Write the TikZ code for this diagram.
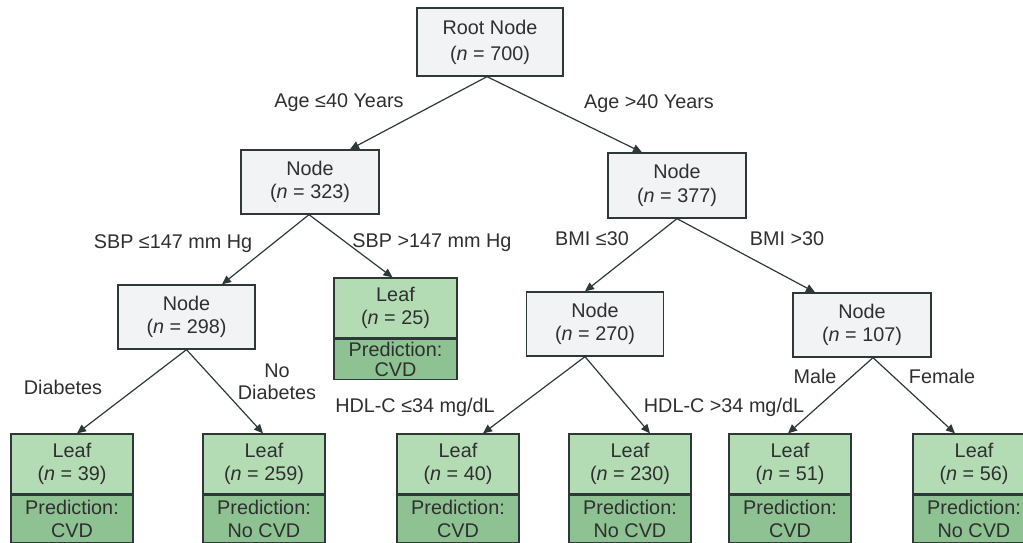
\documentclass[tikz,border=0pt]{standalone}
\usepackage{fontspec}
\setmainfont{Liberation Sans}
\usetikzlibrary{arrows.meta,calc}
\definecolor{txt}{HTML}{2F2F2F}
\definecolor{edgec}{HTML}{2E3838}
\definecolor{nfill}{HTML}{F1F3F4}
\definecolor{lfill}{HTML}{B4DCB4}
\definecolor{pfill}{HTML}{8FC293}
\begin{document}
\begin{tikzpicture}[x=1pt,y=-1pt,
  font=\fontsize{19.8}{23.5}\selectfont, text=txt,
  nodebox/.style={draw=edgec, line width=1.3pt, fill=nfill, align=center, inner sep=0pt, minimum width=138pt, minimum height=64pt},
  leaftop/.style={draw=edgec, line width=1.3pt, fill=lfill, align=center, inner sep=0pt, minimum width=122pt, minimum height=60pt},
  leafbot/.style={draw=edgec, line width=1.3pt, fill=pfill, align=center, inner sep=0pt, minimum width=122pt, minimum height=47pt, anchor=north},
  lbl/.style={inner sep=0pt, align=center},
  conn/.style={draw=edgec, line width=1.2pt, -{Triangle[length=9pt,width=8pt]}}]
\useasboundingbox (0,0) rectangle (1023,542);
\clip (0,0) rectangle (1023,542);
% internal nodes
\node[nodebox, minimum width=146pt, minimum height=68pt, font=\fontsize{19.8}{26}\selectfont] (root) at (490,42) {Root Node\\(\textit{n} = 700)};
\node[nodebox] (n323) at (310,182) {Node\\(\textit{n} = 323)};
\node[nodebox, minimum height=65pt] (n377) at (677,185.5) {Node\\(\textit{n} = 377)};
\node[nodebox, minimum width=137pt] (n298) at (186.5,317) {Node\\(\textit{n} = 298)};
\node[nodebox, minimum width=137pt] (n270) at (595,324) {Node\\(\textit{n} = 270)};
\node[nodebox] (n107) at (862,325) {Node\\(\textit{n} = 107)};
% leaf 25
\node[leaftop, minimum width=123pt, minimum height=60pt] (l25t) at (395.5,308) {Leaf\\(\textit{n} = 25)};
\node[leafbot, minimum width=123pt, minimum height=40pt, font=\fontsize{19.8}{19.5}\selectfont] (l25b) at (l25t.south) {Prediction:\\CVD};
% bottom leaves
\node[leaftop] (l39t) at (72,464) {Leaf\\(\textit{n} = 39)};
\node[leafbot] (l39b) at (l39t.south) {Prediction:\\CVD};
\node[leaftop] (l259t) at (264,464) {Leaf\\(\textit{n} = 259)};
\node[leafbot] (l259b) at (l259t.south) {Prediction:\\No CVD};
\node[leaftop] (l40t) at (458,464) {Leaf\\(\textit{n} = 40)};
\node[leafbot] (l40b) at (l40t.south) {Prediction:\\CVD};
\node[leaftop] (l230t) at (630,464) {Leaf\\(\textit{n} = 230)};
\node[leafbot] (l230b) at (l230t.south) {Prediction:\\No CVD};
\node[leaftop] (l51t) at (790,464) {Leaf\\(\textit{n} = 51)};
\node[leafbot] (l51b) at (l51t.south) {Prediction:\\CVD};
\node[leaftop] (l56t) at (974,464) {Leaf\\(\textit{n} = 56)};
\node[leafbot] (l56b) at (l56t.south) {Prediction:\\No CVD};
% connectors
\draw[conn] ([xshift=-3pt]root.south) -- ([xshift=40pt]n323.north);
\draw[conn] ([xshift=-3pt]root.south) -- ([xshift=-35pt]n377.north);
\draw[conn] ([xshift=-1pt]n323.south) -- ([xshift=35.5pt]n298.north);
\draw[conn] ([xshift=-1pt]n323.south) -- ([xshift=-3pt]l25t.north);
\draw[conn] (n377.south) -- ([xshift=-10pt]n270.north);
\draw[conn] (n377.south) -- ([xshift=-47pt]n107.north);
\draw[conn] (n298.south) -- ([xshift=5pt]l39t.north);
\draw[conn] (n298.south) -- ([xshift=-1pt]l259t.north);
\draw[conn] ([xshift=-10pt]n270.south) -- ([xshift=25pt]l40t.north);
\draw[conn] ([xshift=-10pt]n270.south) -- ([xshift=20pt]l230t.north);
\draw[conn] ([xshift=11pt]n107.south) -- ([xshift=-2pt]l51t.north);
\draw[conn] ([xshift=11pt]n107.south) -- ([xshift=-19pt]l56t.north);
% labels
\node[lbl] (a1) at (339,103) {Age ≤40 Years};
\node[lbl] (a2) at (649,104) {Age >40 Years};
\node[lbl] (s1) at (173,244) {SBP ≤147 mm Hg};
\node[lbl] (s2) at (432,243) {SBP >147 mm Hg};
\node[lbl] (b1) at (592,239) {BMI ≤30};
\node[lbl] (b2) at (787,239) {BMI >30};
\node[lbl] (d1) at (63,387) {Diabetes};
\node[lbl, font=\fontsize{19.8}{22}\selectfont] (d2) at (277,382) {No\\Diabetes};
\node[lbl] (h1) at (415,407) {HDL-C ≤34 mg/dL};
\node[lbl] (h2) at (724,407) {HDL-C >34 mg/dL};
\node[lbl] (m1) at (815,376) {Male};
\node[lbl] (f1) at (942,376) {Female};
\end{tikzpicture}
\end{document}
